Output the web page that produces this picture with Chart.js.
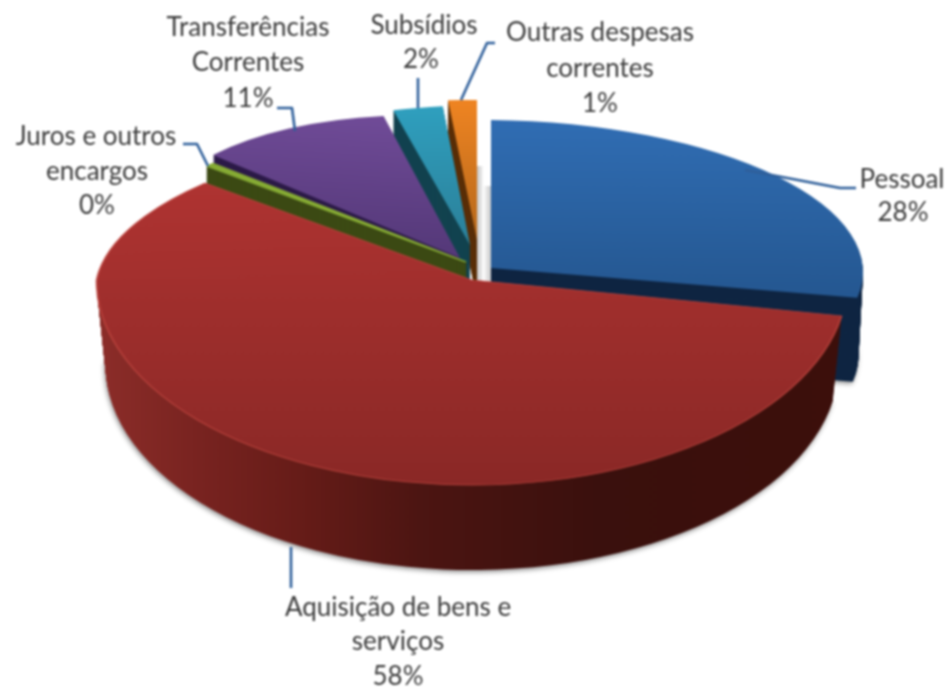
<!DOCTYPE html>
<html lang="pt"><head><meta charset="utf-8">
<style>html,body{margin:0;padding:0;background:#fff;overflow:hidden}
#wrap{width:949px;height:689px;position:relative}
canvas{filter:blur(1px)}</style>
<script src="https://cdn.jsdelivr.net/npm/chart.js@4/dist/chart.umd.min.js"></script>
</head><body><div id="wrap"><canvas id="c" width="949" height="689"></canvas></div>
<script>
const categories = ["Pessoal","Aquisição de bens e serviços","Juros e outros encargos","Transferências Correntes","Subsídios","Outras despesas correntes"];
const values = [27.8, 58.4, 0.4, 10.5, 1.9, 1.0];
const labelLines = [["Pessoal"],["Aquisição de bens e","serviços"],["Juros e outros","encargos"],["Transferências","Correntes"],["Subsídios"],["Outras despesas","correntes"]];
const topColors = [["#306db3","#24568f"],["#ae3331","#8a2826"],["#86ab34","#7a9e2c"],["#714c99","#543878"],["#2f9fbe","#2b7f98"],["#ef8422","#b5681b"]];
const sideColors = ["#0f2542",null,"#3c4a14","#2c1a48","#12424f","#5a2f08"];
const redSideStops = [[97,"#8c2d29"],[200,"#782320"],[300,"#661c18"],[420,"#4c1512"],[600,"#3a100d"],[840,"#3c0f0b"]];
const drawOrder = [0,5,4,3,2,1];
// projection of each slice: apex, linear map of the unit circle, extrusion
const layout = [
 {apex:[491,268],top:[[372,0],[4,148]],bot:[[372,0],[4,148]],depth:84,shrink:.012,grad:[120,300],shadow:true},
 {apex:[472,280],top:[[375.5,-30],[0,150]],bot:[[375.5,0],[0,205]],depth:85,shrink:.024,grad:[180,485],shadow:true,rim:"rgba(196,72,66,.75)",rimWidth:1.6},
 {apex:[466,262],top:[[339,0],[0,148]],bot:[[339,0],[0,148]],depth:18,shrink:0,grad:[165,262],thick:2.4},
 {apex:[460,258],top:[[313.3,20],[10.9,142.5]],bot:[[313.3,20],[10.9,142.5]],depth:30,shrink:0,grad:[116,258]},
 {apex:[470,245],top:[[418,1],[-16,140]],bot:[[418,1],[-16,140]],depth:60,shrink:0,grad:[106,245]},
 {apex:[477,240],top:[[462,0],[0,140]],bot:[[462,0],[0,140]],depth:60,shrink:0,grad:[100,240]}
];
const labelPos = [[[902,180],[903,213]],[[398,608],[398,642],[398,677]],[[96,137],[97,172],[97,206]],[[248,28],[248,63],[248,99]],[[424,26],[421,60]],[[600,33],[600,69],[600,104]]];
const leaders = [[[856,188],[840,188],[745,170]],[[291,547],[291,588]],[[183,144],[197,144],[208,166]],[[277,108],[292,108],[295,131]],[[418,78],[418,108]],[[495,43],[487,43],[461,100]]];

function paint(ctx,arc,L,dy,s,fillFor,shadow,line){
  const R=arc.outerRadius, ax=L.apex[0], ay=L.apex[1]+dy;
  const same=JSON.stringify(L.top)===JSON.stringify(L.bot);
  const bands=same?[[L.bot,null]]:[[L.top,[0,0,949,ay]],[L.bot,[0,ay,949,689-ay]]];
  const saved=arc.options;
  for(const [M,clip] of bands){
    const a=M[0][0]*s,b=M[0][1]*s,c=M[1][0],d=M[1][1],det=a*d-b*c;
    const toUser=(x,y)=>{const X=x-ax,Y=y-ay;return [arc.x+R*(d*X-b*Y)/det,arc.y+R*(-c*X+a*Y)/det];};
    ctx.save();
    if(clip){ctx.beginPath();ctx.rect(clip[0],clip[1],clip[2],clip[3]);ctx.clip();}
    ctx.transform(a/R,c/R,b/R,d/R,ax,ay);
    ctx.translate(-arc.x,-arc.y);
    if(shadow){ctx.shadowColor="rgba(0,0,0,.45)";ctx.shadowBlur=5;ctx.shadowOffsetX=-1;ctx.shadowOffsetY=2;}
    const fill=fillFor(ctx,toUser,ay);
    arc.options=Object.assign({},saved,{backgroundColor:fill,borderWidth:line?line.width:0,borderColor:line?(line.color||fill):"transparent",borderAlign:"center"});
    arc.draw(ctx);
    ctx.restore();
  }
  arc.options=saved;
}
function grad(ctx,p0,p1,stops){
  const g=ctx.createLinearGradient(p0[0],p0[1],p1[0],p1[1]);
  stops.forEach(st=>g.addColorStop(st[0],st[1]));return g;
}
const pie3d={id:"pie3d",
  beforeDatasetDraw(chart){
    const ctx=chart.ctx, arcs=chart.getDatasetMeta(0).data;
    drawOrder.forEach(i=>{
      const arc=arcs[i],L=layout[i];
      if(i===1){ // soft shadow strips in the gap, behind the red slice
        let g=ctx.createLinearGradient(477,0,483,0);g.addColorStop(0,"#c4c4c4");g.addColorStop(1,"#f6f6f6");
        ctx.fillStyle=g;ctx.fillRect(477,166,6,120);
        g=ctx.createLinearGradient(484,0,491,0);g.addColorStop(0,"#f8f8f8");g.addColorStop(1,"#c8c8c8");
        ctx.fillStyle=g;ctx.fillRect(484,186,7,100);
      }
      const thick=L.thick?{width:L.thick}:null;
      for(let t=L.depth;t>0;t--){
        const s=1-L.shrink*t/L.depth;
        paint(ctx,arc,L,t,s,(c,toUser,ay)=>{
          if(sideColors[i]) return sideColors[i];
          const x0=redSideStops[0][0],x1=redSideStops[redSideStops.length-1][0];
          return grad(c,toUser(x0,ay),toUser(x1,ay),redSideStops.map(p=>[(p[0]-x0)/(x1-x0),p[1]]));
        },t===L.depth&&L.shadow,thick);
      }
      const topLine=L.rim?{width:L.rimWidth,color:L.rim}:thick;
      paint(ctx,arc,L,0,1,(c,toUser)=>L.thick?topColors[i][0]:grad(c,toUser(L.apex[0],L.grad[0]),toUser(L.apex[0],L.grad[1]),[[0,topColors[i][0]],[1,topColors[i][1]]]),false,topLine);
    });
    return false;
  },
  afterDatasetsDraw(chart){
    const ctx=chart.ctx;
    ctx.save();
    ctx.strokeStyle="#2f5f9a";ctx.lineWidth=2.6;ctx.lineJoin="round";
    leaders.forEach(pts=>{ctx.beginPath();pts.forEach((p,k)=>k?ctx.lineTo(p[0],p[1]):ctx.moveTo(p[0],p[1]));ctx.stroke();});
    ctx.fillStyle="#3c3c3c";ctx.font='26px Lato, "Open Sans", sans-serif';ctx.textAlign="center";ctx.textBaseline="middle";
    categories.forEach((_,i)=>{
      const lines=[...labelLines[i],Math.round(values[i])+"%"];
      lines.forEach((tx,k)=>ctx.fillText(tx,labelPos[i][k][0],labelPos[i][k][1]));
    });
    ctx.restore();
  }
};
new Chart(document.getElementById("c"),{
  type:"pie",
  data:{labels:categories,datasets:[{data:values,backgroundColor:topColors.map(p=>p[0]),borderWidth:0}]},
  options:{responsive:false,animation:false,events:[],plugins:{legend:{display:false},tooltip:{enabled:false}}},
  plugins:[pie3d]
});
</script></body></html>
